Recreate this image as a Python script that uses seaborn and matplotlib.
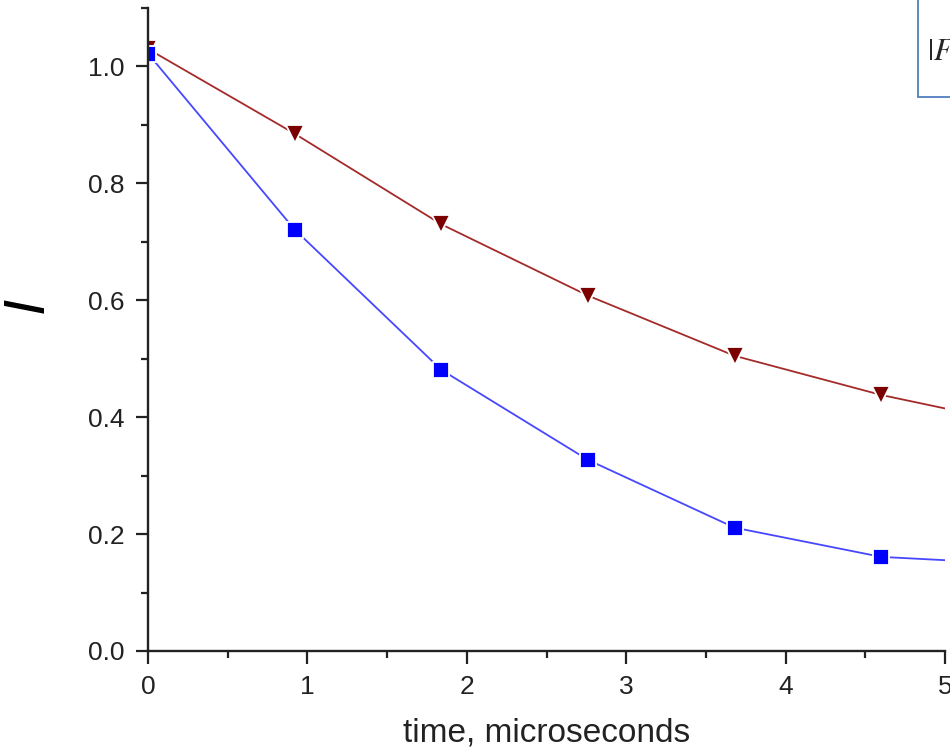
import numpy as np
import pandas as pd
import matplotlib
matplotlib.use("Agg")
import matplotlib.pyplot as plt
from matplotlib.patches import Rectangle
from matplotlib.ticker import MultipleLocator
import seaborn as sns

# data
time_us = [0.0, 0.92, 1.84, 2.76, 3.68, 4.60, 5.52]
red_vals = [1.03, 0.885, 0.730, 0.608, 0.505, 0.438, 0.385]
blue_vals = [1.022, 0.721, 0.481, 0.327, 0.211, 0.161, 0.148]
x_ticks = [0, 1, 2, 3, 4, 5]
y_ticks = [0.0, 0.2, 0.4, 0.6, 0.8, 1.0]
x_label = "time, microseconds"
y_label = "I"
legend_text = "$|F|$"

sns.set_style("ticks")
plt.rcParams["font.family"] = ["Liberation Sans", "DejaVu Sans"]
plt.rcParams["mathtext.fontset"] = "stix"

fig = plt.figure(figsize=(9.5, 7.51), dpi=100)
ax = fig.add_axes([148 / 950, 1 - 651 / 751, (945 - 148) / 950, (651 - 8) / 751])

df_red = pd.DataFrame({"t": time_us, "v": red_vals})
df_blue = pd.DataFrame({"t": time_us, "v": blue_vals})

sns.lineplot(data=df_red, x="t", y="v", ax=ax, color="#A52A2A", lw=1.3,
             marker="v", markersize=13, markerfacecolor="#7B0000",
             markeredgecolor="white", markeredgewidth=1.3)
sns.lineplot(data=df_blue, x="t", y="v", ax=ax, color="#4747FF", lw=1.3,
             marker="s", markersize=11, markerfacecolor="#0000FF",
             markeredgecolor="white", markeredgewidth=1.3)

ax.set_xlim(0, 5)
ax.set_ylim(0, 1.1)
ax.set_xticks(x_ticks)
ax.set_xticklabels([str(v) for v in x_ticks])
ax.set_yticks(y_ticks)
ax.set_yticklabels([f"{v:.1f}" for v in y_ticks])
ax.xaxis.set_minor_locator(MultipleLocator(0.5))
ax.yaxis.set_minor_locator(MultipleLocator(0.1))

for s in ["top", "right"]:
    ax.spines[s].set_visible(False)
for s in ["left", "bottom"]:
    ax.spines[s].set_linewidth(1.7)
    ax.spines[s].set_color("#222222")

ax.tick_params(which="major", length=9, width=1.6, pad=8, labelsize=19,
               colors="#222222", direction="out")
ax.tick_params(which="minor", length=5, width=1.6, colors="#222222",
               direction="out")

ax.set_xlabel(x_label, fontsize=24, color="#222222")
ax.xaxis.set_label_coords(0.5, -(733 - 651) / 643)
ax.xaxis.label.set_va("center")
ax.set_ylabel(y_label, fontsize=42, style="italic", color="black")
ax.yaxis.set_label_coords(-(148 - 28) / 797, (651 - 305) / 643)
ax.yaxis.label.set_va("center")

# partially visible legend box at the top-right corner
fig.patches.append(Rectangle((918 / 950, 1 - 97 / 751), 0.2, 0.2,
                             transform=fig.transFigure, fill=True,
                             facecolor="white", edgecolor="#4F7FC0",
                             lw=1.3, zorder=5))
fig.text(927 / 950, 1 - 52 / 751, legend_text, fontsize=22, va="center",
         ha="left", zorder=6)

fig.savefig("out.png", dpi=100)
